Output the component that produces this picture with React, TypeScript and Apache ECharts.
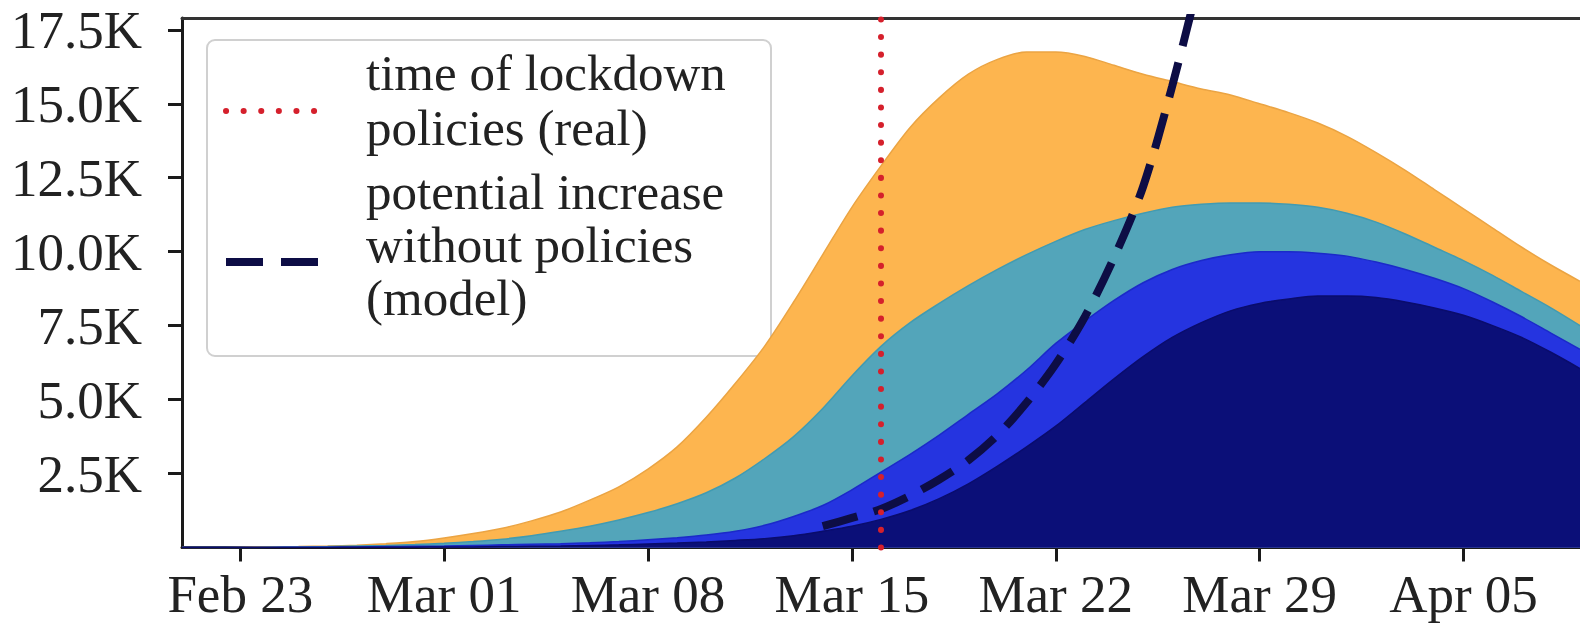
import { useEffect, useRef } from "react";
import * as echarts from "echarts";

const dates = [
  "Feb 21", "Feb 22", "Feb 23", "Feb 24", "Feb 25", "Feb 26", "Feb 27", "Feb 28", "Feb 29",
  "Mar 01", "Mar 02", "Mar 03", "Mar 04", "Mar 05", "Mar 06", "Mar 07", "Mar 08", "Mar 09", "Mar 10",
  "Mar 11", "Mar 12", "Mar 13", "Mar 14", "Mar 15", "Mar 16", "Mar 17", "Mar 18", "Mar 19", "Mar 20",
  "Mar 21", "Mar 22", "Mar 23", "Mar 24", "Mar 25", "Mar 26", "Mar 27", "Mar 28", "Mar 29", "Mar 30", "Mar 31",
  "Apr 01", "Apr 02", "Apr 03", "Apr 04", "Apr 05", "Apr 06", "Apr 07", "Apr 08", "Apr 09",
];

const xTickLabels = ["Feb 23", "Mar 01", "Mar 08", "Mar 15", "Mar 22", "Mar 29", "Apr 05"];
const yTickValues = [2.5, 5, 7.5, 10, 12.5, 15, 17.5];
const lockdownDate = "Mar 16";

// values in thousands, one per day from Feb 21 to Apr 09
const orangeSeries = [0, 0, 0.01, 0.02, 0.03, 0.05, 0.08, 0.13, 0.2, 0.32, 0.47, 0.65, 0.9, 1.2, 1.6, 2.05, 2.65, 3.4, 4.4, 5.55, 6.8, 8.3, 9.9, 11.5, 12.9, 14.2, 15.2, 16.0, 16.5, 16.75, 16.75, 16.6, 16.3, 16.0, 15.75, 15.5, 15.3, 15.0, 14.7, 14.35, 13.9, 13.35, 12.75, 12.1, 11.45, 10.8, 10.15, 9.55, 9.0];
const tealSeries = [0, 0, 0, 0.01, 0.02, 0.03, 0.05, 0.07, 0.1, 0.14, 0.2, 0.28, 0.4, 0.55, 0.72, 0.93, 1.18, 1.48, 1.85, 2.35, 3.0, 3.75, 4.7, 5.8, 6.8, 7.6, 8.25, 8.85, 9.4, 9.9, 10.35, 10.75, 11.05, 11.3, 11.5, 11.6, 11.65, 11.65, 11.6, 11.5, 11.3, 11.0, 10.6, 10.15, 9.7, 9.2, 8.65, 8.1, 7.5];
const blueSeries = [0, 0, 0, 0, 0.01, 0.01, 0.02, 0.03, 0.04, 0.05, 0.07, 0.09, 0.11, 0.13, 0.16, 0.2, 0.26, 0.33, 0.42, 0.55, 0.75, 1.05, 1.42, 1.95, 2.55, 3.15, 3.8, 4.5, 5.2, 6.0, 6.9, 7.65, 8.35, 8.95, 9.4, 9.7, 9.9, 10.0, 10.0, 9.95, 9.85, 9.65, 9.4, 9.1, 8.75, 8.3, 7.8, 7.25, 6.7];
const navySeries = [0, 0, 0, 0, 0, 0, 0.01, 0.01, 0.01, 0.02, 0.02, 0.03, 0.04, 0.05, 0.07, 0.09, 0.12, 0.15, 0.19, 0.24, 0.3, 0.4, 0.55, 0.72, 0.95, 1.25, 1.65, 2.15, 2.75, 3.4, 4.1, 4.9, 5.7, 6.45, 7.1, 7.6, 8.0, 8.25, 8.4, 8.5, 8.5, 8.45, 8.3, 8.1, 7.85, 7.5, 7.1, 6.6, 6.05];
const modelSeries = [
  null, null, null, null, null, null, null, null, null, null, null,
  null, null, null, null, null, null, null, null, null, null, null,
  0.72, 1.0, 1.3, 1.75, 2.3, 2.95, 3.8, 4.9, 6.2, 7.8, 9.8, 12.2, 15.6, 19.5,
  null, null, null, null, null, null, null, null, null, null, null, null, null,
];

const legendLines = ["time of lockdown", "policies (real)", "potential increase", "without policies", "(model)"];

const FONT = "'Liberation Serif', 'DejaVu Serif', serif";

export default function App() {
  const ref = useRef<HTMLDivElement>(null);
  useEffect(() => {
    if (!ref.current) return;
    const chart = echarts.init(ref.current, null, { renderer: "svg" });
    const area = (name: string, data: number[], fill: string, edge: string, z: number) => ({
      name,
      type: "line",
      data,
      smooth: 0.3,
      symbol: "none",
      z,
      lineStyle: { color: edge, width: 1.5 },
      areaStyle: { color: fill, opacity: 1 },
    });
    const legendY = [73, 128, 192, 245, 298];
    chart.setOption({
      animation: false,
      backgroundColor: "#ffffff",
      grid: { left: 182, top: 18, width: 1403.5, height: 529.5, containLabel: false },
      xAxis: [
        {
          type: "category",
          data: dates,
          boundaryGap: false,
          axisLine: { lineStyle: { color: "#1a1a1a", width: 3 } },
          axisTick: {
            show: true,
            length: 14,
            inside: false,
            interval: (i: number, v: string) => xTickLabels.includes(v),
            lineStyle: { color: "#1a1a1a", width: 3 },
          },
          axisLabel: {
            interval: (i: number, v: string) => xTickLabels.includes(v),
            fontFamily: FONT,
            fontSize: 53,
            color: "#222",
            margin: 20,
          },
          splitLine: { show: false },
        },
        {
          type: "category",
          data: dates,
          position: "top",
          boundaryGap: false,
          axisLine: { lineStyle: { color: "#333", width: 3 } },
          axisTick: { show: false },
          axisLabel: { show: false },
          splitLine: { show: false },
        },
      ],
      yAxis: {
        type: "value",
        min: 0,
        max: 17.9,
        axisLine: { show: true, lineStyle: { color: "#1a1a1a", width: 3 } },
        axisTick: {
          show: true,
          length: 14,
          customValues: yTickValues,
          lineStyle: { color: "#1a1a1a", width: 3 },
        },
        axisLabel: {
          customValues: yTickValues,
          formatter: (v: number) => `${v.toFixed(1)}K`,
          fontFamily: FONT,
          fontSize: 53,
          color: "#222",
          margin: 40,
        },
        splitLine: { show: false },
      },
      series: [
        area("orange", orangeSeries, "#FDB54F", "#EBA443", 1),
        area("teal", tealSeries, "#53A5BA", "#419BB2", 2),
        area("blue", blueSeries, "#2534E0", "#1B2AC9", 3),
        {
          ...area("navy", navySeries, "#0B0F78", "#0A0C6C", 4),
          markLine: {
            silent: true,
            symbol: "none",
            label: { show: false },
            lineStyle: { color: "#D5202C", type: [0.1, 17.5], width: 6, cap: "round" },
            data: [{ xAxis: lockdownDate }],
            z: 10,
          },
        },
        {
          name: "model",
          type: "line",
          data: modelSeries,
          smooth: 0.3,
          symbol: "none",
          z: 8,
          lineStyle: { color: "#0D0D45", width: 8, type: [36, 17] },
        },
      ],
      graphic: [
        {
          type: "group",
          z: 100,
          children: [
            {
              type: "rect",
              shape: { x: 207, y: 40, width: 564, height: 316, r: 8 },
              style: { fill: "rgba(255,255,255,0.85)", stroke: "#d0d0d0", lineWidth: 2 },
            },
            {
              type: "line",
              shape: { x1: 226, y1: 111, x2: 320, y2: 111 },
              style: { stroke: "#D5202C", lineWidth: 6, lineDash: [0.1, 17.5], lineCap: "round" },
            },
            {
              type: "line",
              shape: { x1: 226, y1: 262, x2: 318, y2: 262 },
              style: { stroke: "#0D0D45", lineWidth: 8, lineDash: [37, 18] },
            },
            ...legendLines.map((t, i) => ({
              type: "text",
              x: 366,
              y: legendY[i],
              style: {
                text: t,
                fontFamily: FONT,
                fontSize: 51,
                lineHeight: 44,
                fill: "#222",
                verticalAlign: "middle",
                align: "left",
              },
            })),
          ],
        },
      ],
    });
    return () => chart.dispose();
  }, []);
  return <div ref={ref} style={{ position: "fixed", left: 0, top: 0, width: 1580, height: 631 }} />;
}
